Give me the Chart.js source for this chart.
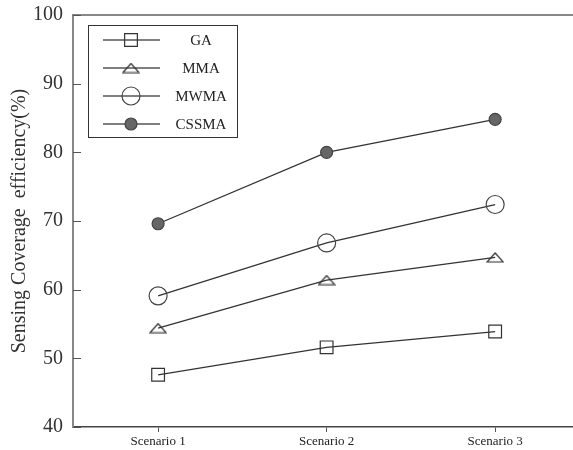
<!DOCTYPE html>
<html>
<head>
<meta charset="utf-8">
<script src="https://cdn.jsdelivr.net/npm/chart.js@4"></script>
<style>
  html, body { margin: 0; padding: 0; background: #fff; }
  #wrap { width: 573px; height: 450px; }
</style>
</head>
<body>
<div id="wrap"><canvas id="chart" width="573" height="450"></canvas></div>
<script>
// chart values
const scenarios = ['Scenario 1', 'Scenario 2', 'Scenario 3'];
const gaValues = [47.6, 51.6, 53.9];
const mmaValues = [54.4, 61.4, 64.7];
const mwmaValues = [59.1, 66.8, 72.4];
const cssmaValues = [69.6, 80.0, 84.8];
const yTicks = [40, 50, 60, 70, 80, 90, 100];

const serif = '"Liberation Serif", "DejaVu Serif", serif';

// flat open triangle used as MMA marker
const tri = document.createElement('canvas');
tri.width = 18;
tri.height = 11;
const tctx = tri.getContext('2d');
tctx.strokeStyle = '#333';
tctx.lineWidth = 1.2;
tctx.beginPath();
tctx.moveTo(1, 10);
tctx.lineTo(9, 1);
tctx.lineTo(17, 10);
tctx.closePath();
tctx.stroke();

function toPoints(values) {
    return values.map((v, i) => ({ x: i + 1, y: v }));
}

const datasets = [
    { label: 'GA', data: toPoints(gaValues), pointStyle: 'rect', pointRadius: 9,
      pointBackgroundColor: 'rgba(0,0,0,0)', pointBorderColor: '#333' },
    { label: 'MMA', data: toPoints(mmaValues), pointStyle: tri, pointRadius: 9,
      pointBackgroundColor: 'rgba(0,0,0,0)', pointBorderColor: '#333' },
    { label: 'MWMA', data: toPoints(mwmaValues), pointStyle: 'circle', pointRadius: 9,
      pointBackgroundColor: 'rgba(0,0,0,0)', pointBorderColor: '#444' },
    { label: 'CSSMA', data: toPoints(cssmaValues), pointStyle: 'circle', pointRadius: 6,
      pointBackgroundColor: '#666', pointBorderColor: '#444' }
].map(d => Object.assign(d, {
    borderColor: '#333',
    borderWidth: 1.3,
    pointBorderWidth: 1.2,
    fill: false,
    tension: 0
}));

// draw one marker like the dataset does
function drawMarker(ctx, ds, x, y) {
    ctx.save();
    ctx.lineWidth = ds.pointBorderWidth;
    ctx.strokeStyle = ds.pointBorderColor;
    ctx.fillStyle = ds.pointBackgroundColor;
    if (ds.pointStyle instanceof HTMLCanvasElement) {
        ctx.drawImage(ds.pointStyle, x - ds.pointStyle.width / 2, y - ds.pointStyle.height / 2);
    } else if (ds.pointStyle === 'rect') {
        const s = Math.SQRT1_2 * ds.pointRadius;
        ctx.beginPath();
        ctx.rect(x - s, y - s, 2 * s, 2 * s);
        ctx.fill();
        ctx.stroke();
    } else {
        ctx.beginPath();
        ctx.arc(x, y, ds.pointRadius, 0, Math.PI * 2);
        ctx.fill();
        ctx.stroke();
    }
    ctx.restore();
}

const framePlugin = {
    id: 'frame',
    afterDraw(chart) {
        const { ctx, chartArea: a, scales } = chart;
        ctx.save();
        // top border
        ctx.strokeStyle = '#888';
        ctx.lineWidth = 2;
        ctx.beginPath();
        ctx.moveTo(a.left, a.top);
        ctx.lineTo(a.right, a.top);
        ctx.stroke();
        // inward y ticks
        ctx.strokeStyle = '#555';
        ctx.lineWidth = 1;
        yTicks.forEach(v => {
            const y = Math.round(scales.y.getPixelForValue(v)) + 0.5;
            ctx.beginPath();
            ctx.moveTo(a.left, y);
            ctx.lineTo(a.left + 8, y);
            ctx.stroke();
        });
        // legend box
        const bx = a.left + 15, by = a.top + 10, bw = 149, bh = 112;
        ctx.strokeStyle = '#333';
        ctx.lineWidth = 1;
        ctx.strokeRect(bx + 0.5, by + 0.5, bw, bh);
        ctx.font = '15px ' + serif;
        ctx.fillStyle = '#222';
        ctx.textAlign = 'center';
        ctx.textBaseline = 'middle';
        chart.data.datasets.forEach((ds, i) => {
            const y = by + 15 + i * 28;
            ctx.strokeStyle = '#555';
            ctx.lineWidth = 1.3;
            ctx.beginPath();
            ctx.moveTo(bx + 15, y);
            ctx.lineTo(bx + 72, y);
            ctx.stroke();
            drawMarker(ctx, ds, bx + 43, y);
            ctx.fillText(ds.label, bx + 113, y + 1);
        });
        ctx.restore();
    }
};

new Chart(document.getElementById('chart'), {
    type: 'line',
    data: { datasets: datasets },
    plugins: [framePlugin],
    options: {
        responsive: false,
        animation: false,
        layout: { autoPadding: false, padding: { top: 15, right: 0, bottom: 0, left: 0 } },
        plugins: { legend: { display: false }, tooltip: { enabled: false } },
        scales: {
            x: {
                type: 'linear',
                min: 0.495,
                max: 3.462,
                afterBuildTicks: scale => {
                    scale.ticks = scenarios.map((s, i) => ({ value: i + 1 }));
                },
                afterFit: scale => {
                    scale.height = 23;
                    scale.paddingLeft = 0;
                    scale.paddingRight = 0;
                },
                ticks: {
                    callback: v => scenarios[v - 1] || '',
                    font: { family: serif, size: 13 },
                    color: '#222',
                    padding: 2,
                    maxRotation: 0
                },
                grid: { drawOnChartArea: false, drawTicks: true, tickLength: 5, color: '#555' },
                border: { color: '#444', width: 1.5 }
            },
            y: {
                min: 40,
                max: 100,
                afterBuildTicks: scale => {
                    scale.ticks = yTicks.map(v => ({ value: v }));
                },
                afterFit: scale => {
                    scale.width = 73;
                    scale.paddingTop = 0;
                    scale.paddingBottom = 0;
                },
                ticks: {
                    font: { family: serif, size: 20 },
                    color: '#333',
                    padding: 10
                },
                grid: { drawOnChartArea: false, drawTicks: false },
                border: { color: '#888', width: 2 },
                title: {
                    display: true,
                    text: 'Sensing Coverage  efficiency(%)',
                    font: { family: serif, size: 20 },
                    color: '#333',
                    padding: { top: 8, bottom: 0 }
                }
            }
        }
    }
});
</script>
</body>
</html>
